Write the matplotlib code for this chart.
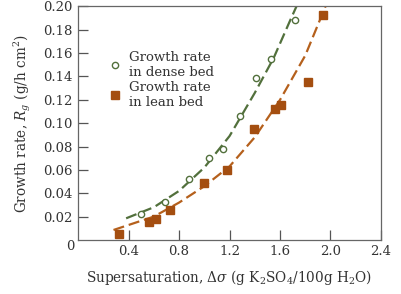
import matplotlib
matplotlib.use("Agg")
import matplotlib.pyplot as plt

# measured points
dense_x = [0.50, 0.69, 0.88, 1.04, 1.15, 1.28, 1.41, 1.53, 1.72]
dense_y = [0.0222, 0.0327, 0.052, 0.070, 0.078, 0.106, 0.139, 0.155, 0.188]
lean_x = [0.32, 0.56, 0.62, 0.73, 1.00, 1.18, 1.39, 1.56, 1.61, 1.82, 1.94]
lean_y = [0.005, 0.0156, 0.018, 0.026, 0.049, 0.060, 0.095, 0.112, 0.116, 0.135, 0.193]

# dashed trend curves
dense_fit_x = [0.38, 0.6, 0.8, 1.0, 1.2, 1.4, 1.55, 1.68, 1.73]
dense_fit_y = [0.0185, 0.028, 0.042, 0.062, 0.089, 0.126, 0.156, 0.188, 0.200]
lean_fit_x = [0.28, 0.6, 0.8, 1.0, 1.2, 1.4, 1.6, 1.8, 1.96]
lean_fit_y = [0.0085, 0.020, 0.032, 0.046, 0.063, 0.088, 0.120, 0.158, 0.200]

x_ticks = [0.4, 0.8, 1.2, 1.6, 2.0, 2.4]
y_ticks = [0.02, 0.04, 0.06, 0.08, 0.10, 0.12, 0.14, 0.16, 0.18, 0.20]

green = "#52703c"
orange = "#b5601c"
square = "#a44e10"
txt = "#333333"

plt.rcParams["font.family"] = ["DejaVu Serif"]
plt.rcParams["mathtext.fontset"] = "dejavuserif"

fig = plt.figure(figsize=(4.01, 2.94), dpi=100)
ax = fig.add_axes([0.195, 0.184, 0.755, 0.794])

ax.plot(dense_fit_x, dense_fit_y, color=green, lw=1.6, dashes=(5, 2.2))
ax.plot(lean_fit_x, lean_fit_y, color=orange, lw=1.6, dashes=(5, 2.2))
ax.plot(dense_x, dense_y, "o", mfc="white", mec=green, mew=1.0, ms=4.5,
        label="Growth rate\nin dense bed")
ax.plot(lean_x, lean_y, "s", color=square, ms=6, label="Growth rate\nin lean bed")

ax.set_xlim(0, 2.4)
ax.set_ylim(0, 0.20)
ax.set_xticks(x_ticks)
ax.set_yticks(y_ticks)
ax.set_xticklabels([f"{v:.1f}" for v in x_ticks])
ax.set_yticklabels([f"{v:.2f}" for v in y_ticks])
ax.tick_params(direction="in", length=7, width=0.9, colors="#555555",
               labelcolor=txt, labelsize=9.5)
ax.tick_params(axis="y", pad=4)
ax.tick_params(axis="x", pad=4)
for s in ax.spines.values():
    s.set_color("#666666")
    s.set_linewidth(0.9)

ax.annotate("0", xy=(0, 0), xytext=(-6, -5), textcoords="offset points",
            ha="center", va="center", fontsize=9.5, color=txt)

ax.set_xlabel(r"Supersaturation, $\Delta\sigma$ (g K$_2$SO$_4$/100g H$_2$O)",
              fontsize=9.8, color=txt, labelpad=7)
ax.set_ylabel(r"Growth rate, $R_g$ (g/h cm$^2$)", fontsize=9.8, color=txt,
              labelpad=7)

ax.legend(loc="upper left", bbox_to_anchor=(0.068, 0.85), frameon=False,
          fontsize=9.5, handlelength=1.0, handletextpad=0.6, labelspacing=0.15,
          labelcolor=txt, borderpad=0.2)

fig.savefig("out.png", dpi=100)
